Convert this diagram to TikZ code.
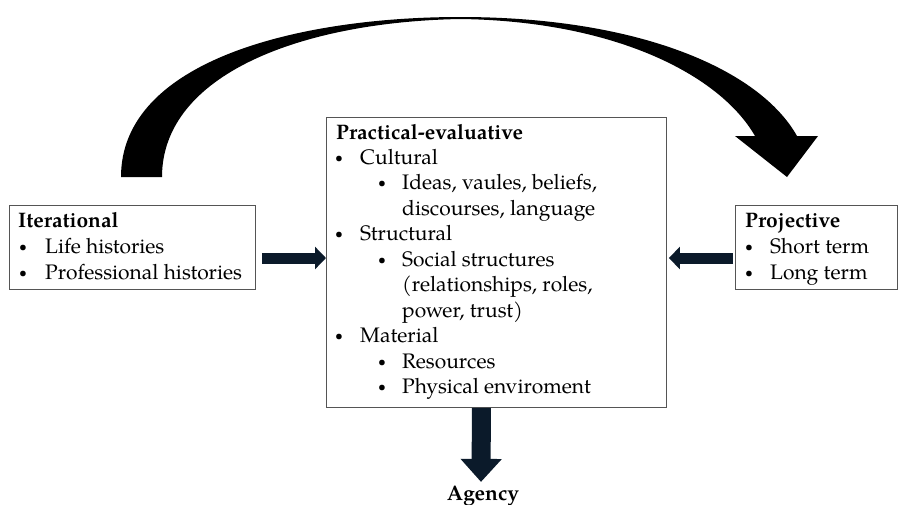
\documentclass[tikz,border=0pt]{standalone}
\usepackage{fontspec}
\IfFontExistsTF{texgyrepagella-regular.otf}{%
  \setmainfont{texgyrepagella}[Extension=.otf,UprightFont=*-regular,BoldFont=*-bold]}{%
  \setmainfont{Liberation Serif}}
\usetikzlibrary{arrows.meta,calc}
\definecolor{navy}{HTML}{0B1A2A}
\definecolor{boxline}{HTML}{555555}
\begin{document}
\begin{tikzpicture}[x=1pt,y=-1pt,
  font=\fontsize{21}{25}\selectfont,
  box/.style={draw=boxline, line width=0.9pt, inner sep=0pt, anchor=north west},
  txt/.style={anchor=base west, inner sep=0pt},
  bul/.style={anchor=base west, inner sep=0pt, font=\fontsize{14}{25}\selectfont, yshift=2pt},
  ttl/.style={anchor=base west, inner sep=0pt, font=\fontsize{21}{25}\selectfont\bfseries},
  bar/.style={navy, line width=11pt, -{Triangle[width=22pt,length=11pt]}},
  downbar/.style={navy, line width=19pt, -{Triangle[width=40pt,length=23pt]}}]
\useasboundingbox (0,0) rectangle (902,504);

% boxes
\node[box, minimum width=246pt, minimum height=84pt] (it) at (9,205) {};
\node[box, minimum width=340pt, minimum height=290pt] (c) at (326,117) {};
\node[box, minimum width=162pt, minimum height=84pt] (pr) at (735,205) {};

% Iterational
\node[ttl] (itT) at (18,227) {Iterational};
\node[bul] (itB1) at (19,253) {•};
\node[txt] (itL1) at (45,253) {Life histories};
\node[bul] (itB2) at (19,279) {•};
\node[txt] (itL2) at (45,279) {Professional histories};

% Projective
\node[ttl] (prT) at (745,227) {Projective};
\node[bul] (prB1) at (745,253) {•};
\node[txt] (prL1) at (770,253) {Short term};
\node[bul] (prB2) at (745,279) {•};
\node[txt] (prL2) at (770,279) {Long term};

% Practical-evaluative
\node[ttl] (cT) at (336,139) {Practical-evaluative};
\node[bul] (cb1) at (335,164) {•};
\node[txt] (ct1) at (360,164) {Cultural};
\node[bul] (cb2) at (378,189.5) {•};
\node[txt] (ct2) at (402,189.5) {Ideas, vaules, beliefs,};
\node[txt] (ct3) at (402,215) {discourses, language};
\node[bul] (cb4) at (335,240.5) {•};
\node[txt] (ct4) at (360,240.5) {Structural};
\node[bul] (cb5) at (378,266) {•};
\node[txt] (ct5) at (402,266) {Social structures};
\node[txt] (ct6) at (402,291.5) {(relationships, roles,};
\node[txt] (ct7) at (402,317) {power, trust)};
\node[bul] (cb8) at (335,342.5) {•};
\node[txt] (ct8) at (360,342.5) {Material};
\node[bul] (cb9) at (378,368) {•};
\node[txt] (ct9) at (402,368) {Resources};
\node[bul] (cb10) at (378,393.5) {•};
\node[txt] (ct10) at (402,393.5) {Physical enviroment};

% Agency
\node[anchor=base, inner sep=0pt, font=\fontsize{21}{25}\selectfont\bfseries] (ag) at (483,500) {Agency};

% straight block arrows
\draw[bar] ($(it.north east)+(6,53)$) -- ($(c.north west)+(0,141)$);
\draw[bar] ($(pr.north west)+(-2,53)$) -- ($(c.north east)+(2,141)$);
\draw[downbar] ($(c.south)+(-15,0)$) -- ($(ag.north)+(-2,-3.5)$);

% big curved arrow
\fill[black] (121,177) .. controls (121,60) and (300,17) .. (460,17)
  .. controls (640,17) and (760,70) .. (797,136)
  -- (818,136) -- (787,177) -- (735,136) -- (755,136)
  .. controls (720,75) and (615,21) .. (460,19)
  .. controls (300,22) and (162,75) .. (162,177) -- cycle;
\end{tikzpicture}
\end{document}
